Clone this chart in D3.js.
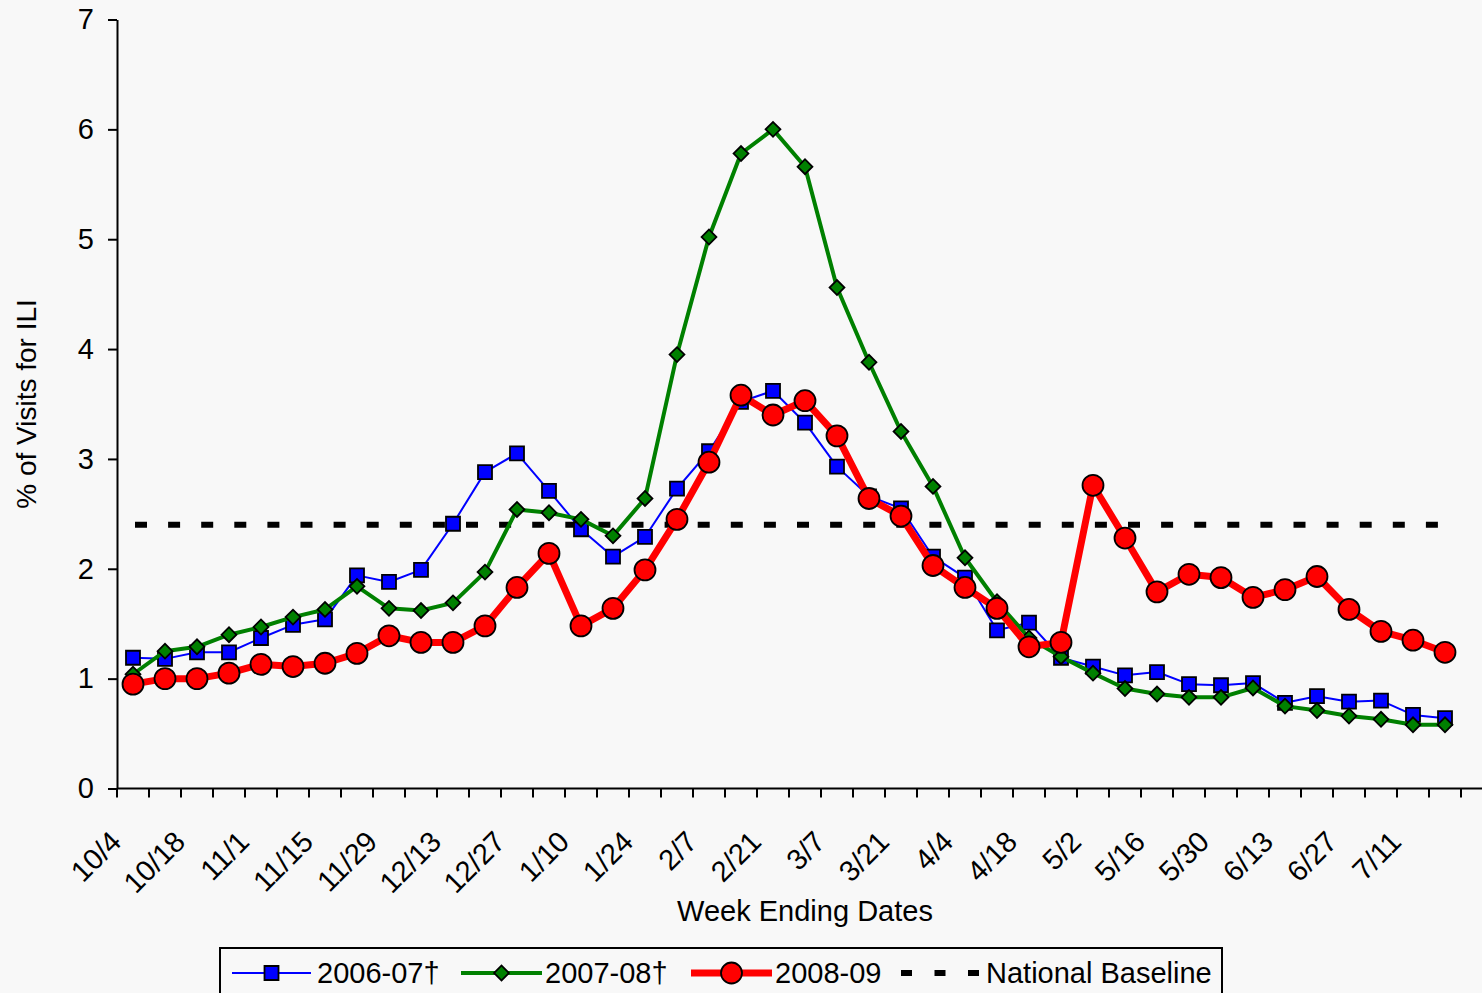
<!DOCTYPE html>
<html>
<head>
<meta charset="utf-8">
<script src="https://cdn.jsdelivr.net/npm/d3@7"></script>
<style>
  html, body { margin: 0; padding: 0; background: #f8f8f8; }
  svg { display: block; }
  text { font-family: "Liberation Sans", Arial, sans-serif; fill: #000; }
</style>
</head>
<body>
<svg id="chart" width="1482" height="993"></svg>
<script>
// ---- Data ----
const categories = ["10/4","10/11","10/18","10/25","11/1","11/8","11/15","11/22","11/29","12/6",
  "12/13","12/20","12/27","1/3","1/10","1/17","1/24","1/31","2/7","2/14",
  "2/21","2/28","3/7","3/14","3/21","3/28","4/4","4/11","4/18","4/25",
  "5/2","5/9","5/16","5/23","5/30","6/6","6/13","6/20","6/27","7/4",
  "7/11","7/18"];

const season0607 = [1.19,1.18,1.24,1.24,1.37,1.49,1.54,1.94,1.88,1.99,
  2.41,2.88,3.05,2.71,2.36,2.11,2.29,2.73,3.07,3.52,
  3.62,3.33,2.93,2.66,2.55,2.11,1.92,1.44,1.51,1.19,
  1.11,1.03,1.06,0.95,0.94,0.96,0.78,0.84,0.79,0.80,
  0.67,0.64];

const season0708 = [1.04,1.25,1.29,1.40,1.47,1.56,1.63,1.84,1.64,1.62,
  1.69,1.97,2.54,2.51,2.45,2.30,2.64,3.95,5.02,5.78,
  6.00,5.66,4.56,3.88,3.25,2.75,2.10,1.70,1.37,1.20,
  1.05,0.91,0.86,0.83,0.83,0.915,0.75,0.71,0.66,0.63,
  0.58,0.58];

const season0809 = [0.95,1.00,1.00,1.05,1.13,1.11,1.14,1.23,1.39,1.33,
  1.33,1.48,1.83,2.14,1.48,1.64,1.99,2.45,2.97,3.58,
  3.40,3.53,3.21,2.64,2.48,2.03,1.83,1.64,1.29,1.33,
  2.76,2.28,1.79,1.95,1.92,1.74,1.81,1.93,1.63,1.43,
  1.35,1.24];

const nationalBaseline = 2.4;
const yTickValues = [0,1,2,3,4,5,6,7];
const seriesNames = ["2006-07\u2020","2007-08\u2020","2008-09","National Baseline"];
const xAxisTitle = "Week Ending Dates";
const yAxisTitle = "% of Visits for ILI";

// ---- Layout ----
const W = 1482, H = 993;
const FS = 29;
const plotL = 117, plotR = 1461, plotT = 19.5, plotB = 788.5;
const svg = d3.select("#chart");
svg.append("rect").attr("width", W).attr("height", H).attr("fill", "#f8f8f8");

const x = d3.scaleBand().domain(categories).range([plotL, plotR]).padding(0);
const cx = c => x(c) + x.bandwidth() / 2;
const y = d3.scaleLinear().domain([0, 7]).range([plotB, plotT]);

// ---- Y axis ----
const yAxis = svg.append("g")
  .attr("transform", `translate(${plotL},0)`)
  .call(d3.axisLeft(y).tickValues(yTickValues).tickSize(9).tickSizeOuter(0).tickPadding(14).tickFormat(d3.format("d")));
yAxis.select(".domain").attr("stroke", "#000").attr("stroke-width", 2);
yAxis.selectAll(".tick line").attr("stroke", "#000").attr("stroke-width", 2);
yAxis.selectAll(".tick text").attr("font-size", FS).attr("font-family", "Liberation Sans, Arial, sans-serif").attr("fill", "#000");

// ---- X axis ----
const xAxis = svg.append("g");
xAxis.append("line")
  .attr("x1", plotL).attr("x2", W).attr("y1", y(0)).attr("y2", y(0))
  .attr("stroke", "#000").attr("stroke-width", 2);
const boundaries = categories.map(c => x(c)).concat([x.range()[1]]);
xAxis.selectAll("line.tick").data(boundaries).enter().append("line")
  .attr("class", "tick")
  .attr("x1", d => d).attr("x2", d => d)
  .attr("y1", y(0)).attr("y2", y(0) + 9)
  .attr("stroke", "#000").attr("stroke-width", 2);
xAxis.selectAll("text.lbl").data(categories.filter((c, i) => i % 2 === 0)).enter().append("text")
  .attr("class", "lbl")
  .attr("transform", c => `translate(${cx(c) - 10},${y(0) + 55}) rotate(-45)`)
  .attr("text-anchor", "end")
  .attr("font-size", FS)
  .text(c => c);

// ---- Axis titles ----
svg.append("text")
  .attr("x", (plotL + plotR) / 2 + 16).attr("y", 921)
  .attr("text-anchor", "middle").attr("font-size", FS)
  .text(xAxisTitle);
svg.append("text")
  .attr("transform", `translate(36,${(plotT + plotB) / 2}) rotate(-90)`)
  .attr("text-anchor", "middle").attr("font-size", 28)
  .text(yAxisTitle);

// ---- Baseline ----
const baseLine = d3.line().x(d => cx(d)).y(() => y(nationalBaseline));
svg.append("path")
  .datum(categories)
  .attr("d", baseLine)
  .attr("fill", "none").attr("stroke", "#000")
  .attr("stroke-width", 6).attr("stroke-dasharray", "12 21.1")
  .attr("transform", "translate(2,0)");

// ---- Series ----
const series = [
  { name: seriesNames[0], values: season0607, color: "#0000ff", width: 2, marker: "square" },
  { name: seriesNames[1], values: season0708, color: "#008000", width: 4, marker: "diamond" },
  { name: seriesNames[2], values: season0809, color: "#ff0000", width: 7, marker: "circle" }
];
const sym = {
  square: d3.symbol().type(d3.symbolSquare).size(196),
  diamond: d3.symbol().type(d3.symbolSquare).size(110),
  circle: d3.symbol().type(d3.symbolCircle).size(Math.PI * 10.5 * 10.5)
};
function markerTransform(m, px, py) {
  return m === "diamond" ? `translate(${px},${py}) rotate(45)` : `translate(${px},${py})`;
}

series.forEach(s => {
  const line = d3.line().x((d, i) => cx(categories[i])).y(d => y(d));
  const g = svg.append("g");
  g.append("path").datum(s.values)
    .attr("d", line).attr("fill", "none")
    .attr("stroke", s.color).attr("stroke-width", s.width)
    .attr("stroke-linejoin", "round");
  g.selectAll("path.m").data(s.values).enter().append("path")
    .attr("class", "m")
    .attr("d", sym[s.marker])
    .attr("transform", (d, i) => markerTransform(s.marker, cx(categories[i]), y(d)))
    .attr("fill", s.color).attr("stroke", "#000").attr("stroke-width", 1.8);
});

// ---- Legend ----
const lg = svg.append("g");
lg.append("rect").attr("x", 220).attr("y", 948).attr("width", 1002).attr("height", 70)
  .attr("fill", "#f8f8f8").attr("stroke", "#000").attr("stroke-width", 2);
const ly = 973;
const legendItems = [
  { s: series[0], x1: 232, x2: 311, tx: 317 },
  { s: series[1], x1: 461, x2: 542, tx: 545 },
  { s: series[2], x1: 691, x2: 772, tx: 775 }
];
legendItems.forEach(it => {
  lg.append("line").attr("x1", it.x1).attr("x2", it.x2).attr("y1", ly).attr("y2", ly)
    .attr("stroke", it.s.color).attr("stroke-width", it.s.width);
  const mx = (it.x1 + it.x2) / 2;
  lg.append("path").attr("d", sym[it.s.marker])
    .attr("transform", markerTransform(it.s.marker, mx, ly))
    .attr("fill", it.s.color).attr("stroke", "#000").attr("stroke-width", 1.8);
  lg.append("text").attr("x", it.tx).attr("y", ly + 10).attr("font-size", FS).text(it.s.name);
});
lg.append("line").attr("x1", 901).attr("x2", 980).attr("y1", ly).attr("y2", ly)
  .attr("stroke", "#000").attr("stroke-width", 6).attr("stroke-dasharray", "11 22.5");
lg.append("text").attr("x", 986).attr("y", ly + 10).attr("font-size", FS).text(seriesNames[3]);
</script>
</body>
</html>
